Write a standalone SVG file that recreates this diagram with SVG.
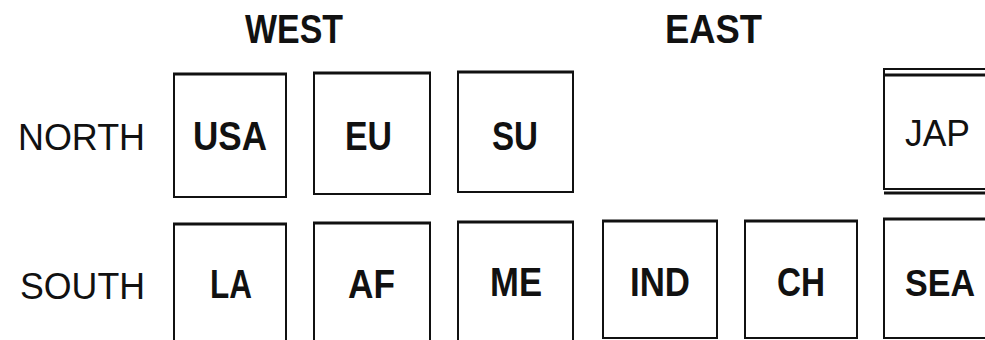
<svg xmlns="http://www.w3.org/2000/svg" width="985" height="340" viewBox="0 0 985 340">
<style>
.box{fill:#fff;stroke:#111;stroke-width:2}
.edge{stroke:#111;stroke-width:3;fill:none}
.lb{font-family:"Liberation Sans",Arial,sans-serif;font-weight:bold;font-size:40px;fill:#111}
.lr{font-family:"Liberation Sans",Arial,sans-serif;font-weight:normal;font-size:37px;fill:#111}
</style>
<rect width="985" height="340" fill="#fff"/>
<g id="headers">
<text class="lb" x="245" y="43" textLength="98" lengthAdjust="spacingAndGlyphs">WEST</text>
<text class="lb" x="665" y="43" textLength="97" lengthAdjust="spacingAndGlyphs">EAST</text>
<text class="lr" x="18" y="150" textLength="127" lengthAdjust="spacingAndGlyphs">NORTH</text>
<text class="lr" x="20" y="299" textLength="125" lengthAdjust="spacingAndGlyphs">SOUTH</text>
</g>
<g id="USA">
<rect class="box" x="174" y="74" width="112" height="123"/>
<line class="edge" x1="173" y1="74" x2="287" y2="74"/>
<text class="lb" x="193" y="150" textLength="74" lengthAdjust="spacingAndGlyphs">USA</text>
</g>
<g id="EU">
<rect class="box" x="314" y="73" width="116" height="121"/>
<line class="edge" x1="313" y1="73" x2="431" y2="73"/>
<text class="lb" x="345" y="150" textLength="47" lengthAdjust="spacingAndGlyphs">EU</text>
</g>
<g id="SU">
<rect class="box" x="458" y="72" width="115" height="120"/>
<line class="edge" x1="457" y1="72" x2="574" y2="72"/>
<text class="lb" x="492" y="150" textLength="46" lengthAdjust="spacingAndGlyphs">SU</text>
</g>
<g id="JAP">
<path class="box" d="M985 69 H884 V189 H985"/>
<line class="edge" x1="884" y1="75" x2="985" y2="75"/>
<line class="edge" x1="884" y1="193" x2="985" y2="193"/>
<text class="lr" x="905" y="146" textLength="65" lengthAdjust="spacingAndGlyphs">JAP</text>
</g>
<g id="LA">
<path class="box" d="M174 340 V224 H286 V340"/>
<line class="edge" x1="173" y1="224" x2="287" y2="224"/>
<text class="lb" x="210" y="298" textLength="42" lengthAdjust="spacingAndGlyphs">LA</text>
</g>
<g id="AF">
<path class="box" d="M314 340 V223 H430 V340"/>
<line class="edge" x1="313" y1="223" x2="431" y2="223"/>
<text class="lb" x="348" y="298" textLength="47" lengthAdjust="spacingAndGlyphs">AF</text>
</g>
<g id="ME">
<path class="box" d="M458 340 V222 H573 V340"/>
<line class="edge" x1="457" y1="222" x2="574" y2="222"/>
<text class="lb" x="490" y="296" textLength="52" lengthAdjust="spacingAndGlyphs">ME</text>
</g>
<g id="IND">
<rect class="box" x="603" y="221" width="114" height="117"/>
<line class="edge" x1="602" y1="221" x2="718" y2="221"/>
<text class="lb" x="630" y="296" textLength="60" lengthAdjust="spacingAndGlyphs">IND</text>
</g>
<g id="CH">
<rect class="box" x="745" y="221" width="112" height="117"/>
<line class="edge" x1="744" y1="221" x2="858" y2="221"/>
<text class="lb" x="777" y="296" textLength="48" lengthAdjust="spacingAndGlyphs">CH</text>
</g>
<g id="SEA">
<path class="box" d="M985 219 H884 V338 H985"/>
<line class="edge" x1="883" y1="219" x2="985" y2="219"/>
<text class="lb" x="905" y="296" style="font-size:37px" textLength="70" lengthAdjust="spacingAndGlyphs">SEA</text>
</g>
<g id="connectors"/>
</svg>
